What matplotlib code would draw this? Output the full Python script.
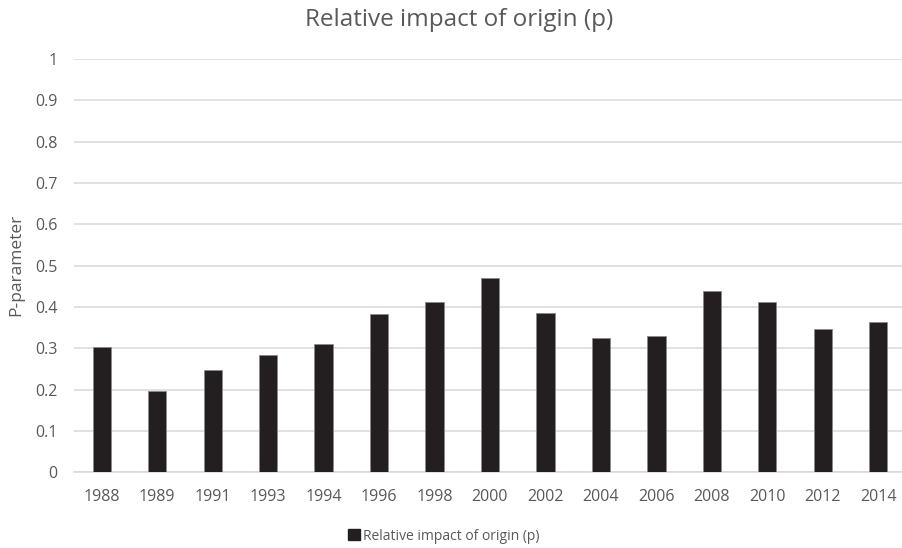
import matplotlib
matplotlib.use("Agg")
import matplotlib.pyplot as plt
from matplotlib.patches import Patch

years = ["1988", "1989", "1991", "1993", "1994", "1996", "1998", "2000",
         "2002", "2004", "2006", "2008", "2010", "2012", "2014"]
p_values = [0.303, 0.197, 0.248, 0.283, 0.311, 0.383, 0.412, 0.471,
            0.386, 0.324, 0.329, 0.438, 0.412, 0.346, 0.364]
y_ticks = [0, 0.1, 0.2, 0.3, 0.4, 0.5, 0.6, 0.7, 0.8, 0.9, 1]
y_tick_labels = ["0", "0.1", "0.2", "0.3", "0.4", "0.5", "0.6", "0.7", "0.8", "0.9", "1"]

TEXT = "#595959"
GRID = "#d9d9d9"
BAR = "#231f20"

plt.rcParams["font.family"] = ["Open Sans", "DejaVu Sans"]

fig = plt.figure(figsize=(9.02, 5.48), dpi=100)
ax = fig.add_axes([74 / 902, 1 - 472.3 / 548, 832 / 902, 413.3 / 548])

x = range(len(years))
ax.bar(x, p_values, width=0.33, color=BAR, edgecolor="#8a8a8a", linewidth=0.6,
       zorder=3)

ax.set_xlim(-0.5, len(years) - 0.5)
ax.set_ylim(0, 1)
ax.set_yticks(y_ticks)
ax.set_yticklabels(y_tick_labels)
ax.set_xticks(list(x))
ax.set_xticklabels(years)
ax.tick_params(axis="both", length=0, labelsize=11.5, colors=TEXT)
ax.tick_params(axis="y", pad=12)
ax.tick_params(axis="x", pad=12)
ax.grid(axis="y", color=GRID, linewidth=1.1, zorder=0)
for side in ["top", "right", "left"]:
    ax.spines[side].set_visible(False)
ax.spines["bottom"].set_color(GRID)
ax.spines["bottom"].set_linewidth(1.1)

fig.text(16 / 902, 1 - 265 / 548, "P-parameter", rotation=90, ha="center",
         va="center", fontsize=12.5, color=TEXT)

fig.text(0.509, 1 - 20 / 548, "Relative impact of origin (p)", ha="center",
         va="center", fontsize=17.5, color=TEXT)

handle = Patch(facecolor=BAR, edgecolor=BAR)
fig.legend([handle], ["Relative impact of origin (p)"], loc="center",
           bbox_to_anchor=(444 / 902, 1 - 536 / 548), frameon=False,
           fontsize=10, handlelength=0.8, handleheight=0.8, handletextpad=0.25,
           labelcolor=TEXT)

fig.savefig("out.png", dpi=100)
